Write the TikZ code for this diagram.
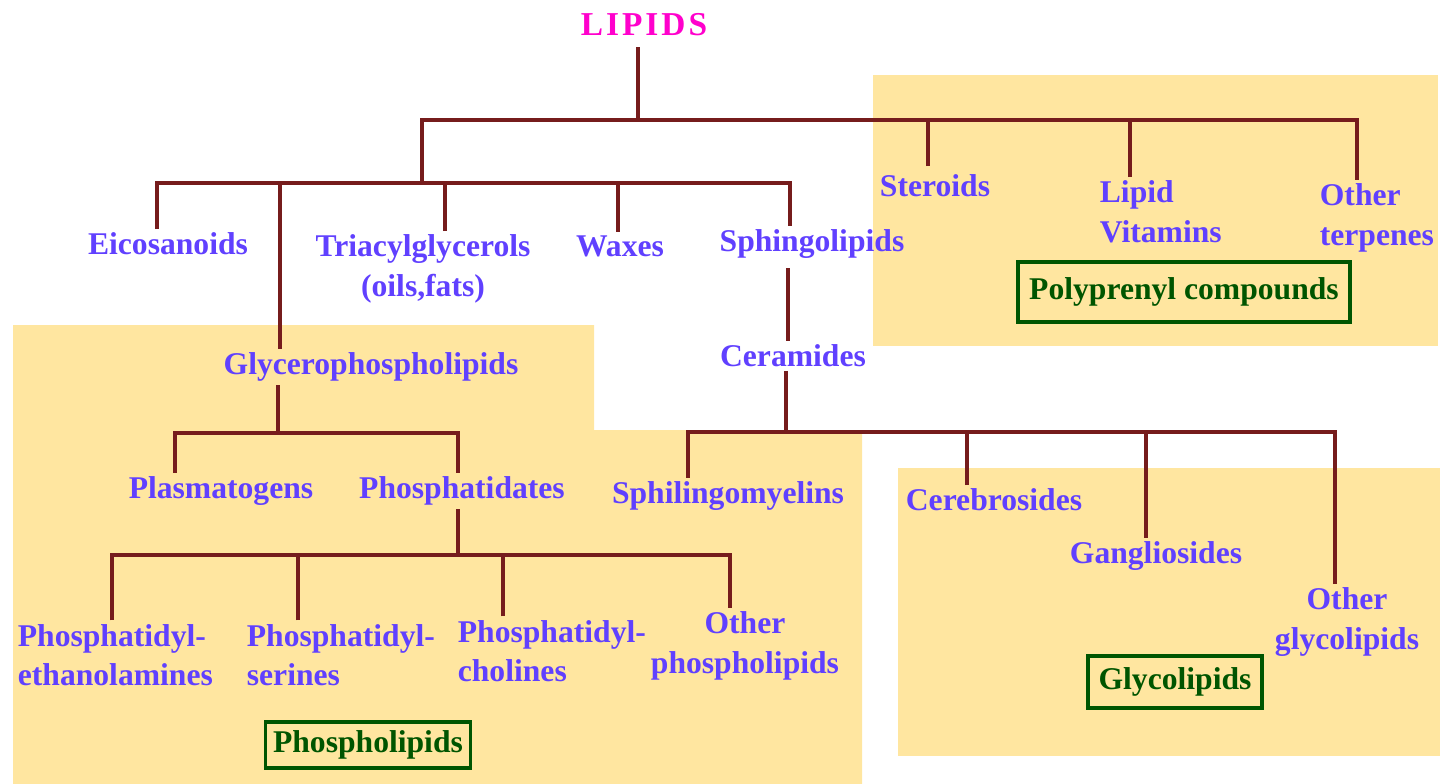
\documentclass[tikz,border=0pt]{standalone}
\usepackage{fontspec}
\setmainfont{Liberation Serif}
\usetikzlibrary{positioning}
\definecolor{itemblue}{RGB}{96,64,255}
\definecolor{titlepink}{RGB}{255,0,204}
\definecolor{linkred}{RGB}{118,28,28}
\definecolor{panelyellow}{RGB}{255,230,160}
\definecolor{groupgreen}{RGB}{0,85,0}

\begin{document}
\begin{tikzpicture}[
    x=0.02cm, y=-0.02cm,
    item/.style={text=itemblue, inner sep=2pt, font=\fontsize{18}{22.5}\selectfont\bfseries},
    title/.style={text=titlepink, inner sep=2pt, outer sep=4pt, font=\fontsize{19}{22}\selectfont\bfseries\addfontfeatures{LetterSpace=9}},
    group/.style={draw=groupgreen, line width=2.2pt, text=groupgreen, inner sep=0pt, font=\fontsize{18}{22}\selectfont\bfseries},
    link/.style={draw=linkred, line width=2.3pt},
    panel/.style={fill=panelyellow}
]
    \useasboundingbox (0,0) rectangle (1443,784);

    % shaded groups
    \fill[panel] (873,75) rectangle (1438,346);
    \fill[panel] (13,325) -- (594,325) -- (594,430) -- (862,430) -- (862,784) -- (13,784) -- cycle;
    \fill[panel] (898,468) rectangle (1440,756);

    % classes
    \node[title] (lipids) at (644,25) {LIPIDS};
    \node[item] (eico) at (168,244) {Eicosanoids};
    \node[item, align=center] (triac) at (423,269) {Triacylglycerols\\(oils,fats)};
    \node[item] (waxes) at (620,246) {Waxes};
    \node[item] (sphingo) at (812,244) {Sphingolipids};
    \node[item] (ster) at (935,186) {Steroids};
    \node[item, align=left, anchor=west] (lipvit) at (1096,212) {Lipid\\Vitamins};
    \node[item, align=left, anchor=west] (terp) at (1316,218) {Other\\terpenes};
    \node[group, minimum width=6.64cm, minimum height=1.2cm] (poly) at (1184,292) {Polyprenyl compounds};

    \node[item] (glycero) at (371,367) {Glycerophospholipids};
    \node[item] (ceram) at (793,356) {Ceramides};
    \node[item] (plasma) at (221,491) {Plasmatogens};
    \node[item] (phosph) at (462,491) {Phosphatidates};
    \node[item] (sphilin) at (728,496) {Sphilingomyelins};
    \node[item] (cereb) at (994,500) {Cerebrosides};
    \node[item] (gangl) at (1156,556) {Gangliosides};
    \node[item, align=center] (othglyc) at (1347,622) {Other\\glycolipids};
    \node[group, minimum width=3.48cm, minimum height=1.04cm] (glycbox) at (1175,682) {Glycolipids};

    \node[item, align=left, anchor=west] (pe) at (14,655) {Phosphatidyl-\\ethanolamines};
    \node[item, align=left, anchor=west] (ps) at (243,655) {Phosphatidyl-\\serines};
    \node[item, align=left, anchor=west] (pc) at (454,651) {Phosphatidyl-\\cholines};
    \node[item, align=center] (othphos) at (745,646) {Other\\phospholipids};
    \node[group, minimum width=4.1cm, minimum height=0.92cm] (phosbox) at (368,745) {Phospholipids};

    % branch levels
    \coordinate (bar1) at (638,120);
    \coordinate (bar2) at (422,183);
    \coordinate (bar3) at (786,432);
    \coordinate (bar4) at (278,433);
    \coordinate (bar5) at (458,555);

    % drop points above the children
    \coordinate (d-eico) at ([xshift=-0.22cm]eico.north);
    \coordinate (d-glycero) at ([xshift=-1.82cm]glycero.north);
    \coordinate (d-triac) at ([xshift=0.44cm]triac.north);
    \coordinate (d-waxes) at ([xshift=-0.04cm]waxes.north);
    \coordinate (d-sphingo) at ([xshift=-0.44cm]sphingo.north);
    \coordinate (d-ster) at ([xshift=-0.14cm, yshift=0.1cm]ster.north);
    \coordinate (d-lipvit) at ([xshift=0.68cm]lipvit.north west);
    \coordinate (d-terp) at ([xshift=0.82cm]terp.north west);
    \coordinate (d-ceram) at ([xshift=-0.48cm, yshift=-0.12cm]sphingo.south);
    \coordinate (d-sphilin) at ([xshift=-0.8cm]sphilin.north);
    \coordinate (d-cereb) at ([xshift=-0.54cm]cereb.north);
    \coordinate (d-gangl) at ([xshift=-0.2cm]gangl.north);
    \coordinate (d-othglyc) at ([xshift=-0.24cm]othglyc.north);
    \coordinate (d-plasma) at ([xshift=-0.92cm]plasma.north);
    \coordinate (d-phosph) at ([xshift=-0.08cm]phosph.north);
    \coordinate (d-pe) at ([xshift=1.96cm]pe.north west);
    \coordinate (d-ps) at ([xshift=1.1cm]ps.north west);
    \coordinate (d-pc) at ([xshift=0.98cm]pc.north west);
    \coordinate (d-othphos) at ([xshift=-0.3cm]othphos.north);

    % lipids
    \draw[link] (bar1) -- (bar1 |- lipids.south);
    \draw[link] (bar2) -- (bar2 |- bar1) -- (d-terp |- bar1) -- (d-terp);
    \foreach \d in {d-ster, d-lipvit}
        \draw[link] (\d) -- (\d |- bar1);

    \draw[link] (d-eico) -- (d-eico |- bar2) -- (d-sphingo |- bar2) -- (d-sphingo);
    \foreach \d in {d-glycero, d-triac, d-waxes}
        \draw[link] (\d) -- (\d |- bar2);

    % sphingolipids
    \draw[link] (d-ceram) -- (d-ceram |- ceram.north);
    \draw[link] (bar3 |- ceram.south) -- (bar3);
    \draw[link] (d-sphilin) -- (d-sphilin |- bar3) -- (d-othglyc |- bar3) -- (d-othglyc);
    \foreach \d in {d-cereb, d-gangl}
        \draw[link] (\d) -- (\d |- bar3);

    % glycerophospholipids
    \draw[link] (bar4 |- glycero.south) -- (bar4);
    \draw[link] (d-plasma) -- (d-plasma |- bar4) -- (d-phosph |- bar4) -- (d-phosph);
    \draw[link] (bar5 |- phosph.south) -- (bar5);
    \draw[link] (d-pe) -- (d-pe |- bar5) -- (d-othphos |- bar5) -- (d-othphos);
    \foreach \d in {d-ps, d-pc}
        \draw[link] (\d) -- (\d |- bar5);
\end{tikzpicture}
\end{document}
